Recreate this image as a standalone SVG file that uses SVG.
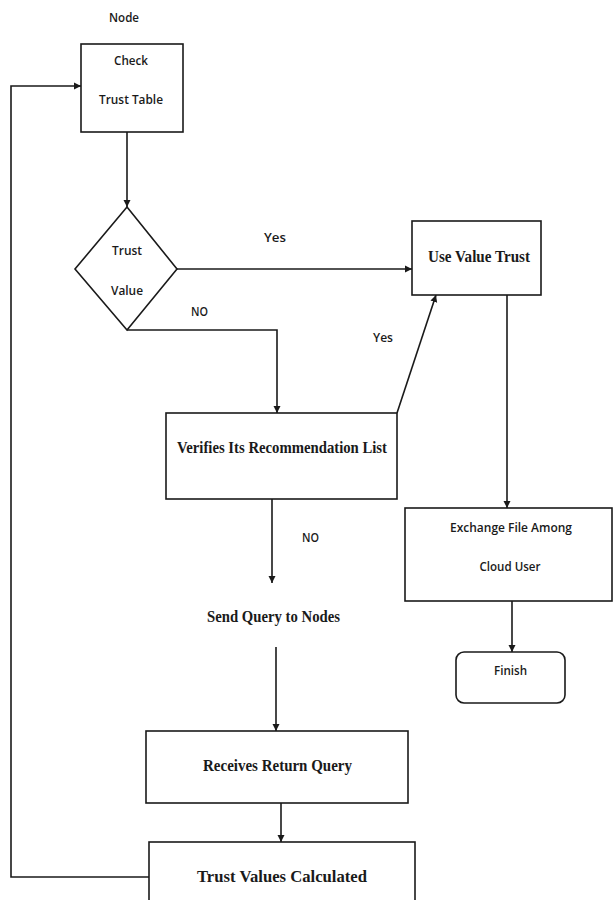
<svg xmlns="http://www.w3.org/2000/svg" width="613" height="900" viewBox="0 0 613 900">
<style>
.box{fill:#fff;stroke:#1a1a1a;stroke-width:1.6}
.ln{fill:none;stroke:#1a1a1a;stroke-width:1.6}
.sans{font-family:"Open Sans","Liberation Sans",sans-serif;font-size:13px;font-weight:600;fill:#1a1a1a;text-anchor:middle}
.serif{font-family:"Liberation Serif","DejaVu Serif",serif;font-size:17px;font-weight:bold;fill:#1a1a1a;text-anchor:middle}
</style>
<defs>
<marker id="ah" markerWidth="8" markerHeight="8" refX="7" refY="4" orient="auto" markerUnits="userSpaceOnUse">
<path d="M0,0.5 L7,4 L0,7.5 Z" fill="#1a1a1a"/>
</marker>
</defs>
<rect width="613" height="900" fill="#fff"/>
<g id="connectors">
<path class="ln" d="M127,132 V207" marker-end="url(#ah)"/>
<path class="ln" d="M177,269 H412" marker-end="url(#ah)"/>
<path class="ln" d="M127,330 H277 V413" marker-end="url(#ah)"/>
<path class="ln" d="M397,413 L436,295" marker-end="url(#ah)"/>
<path class="ln" d="M507,295 V508" marker-end="url(#ah)"/>
<path class="ln" d="M512,601 V652" marker-end="url(#ah)"/>
<path class="ln" d="M272,499 V583" marker-end="url(#ah)"/>
<path class="ln" d="M276,647 V731" marker-end="url(#ah)"/>
<path class="ln" d="M281,803 V842" marker-end="url(#ah)"/>
<path class="ln" d="M149,877 H11 V86 H81" marker-end="url(#ah)"/>
<text class="sans" x="275" y="242" textLength="22" lengthAdjust="spacingAndGlyphs">Yes</text>
<text class="sans" x="199.5" y="316" textLength="17" lengthAdjust="spacingAndGlyphs">NO</text>
<text class="sans" x="383" y="342" textLength="20" lengthAdjust="spacingAndGlyphs">Yes</text>
<text class="sans" x="310.5" y="542" textLength="17" lengthAdjust="spacingAndGlyphs">NO</text>
</g>
<g id="node-label">
<text class="sans" x="124" y="22" textLength="30" lengthAdjust="spacingAndGlyphs">Node</text>
</g>
<g id="check-trust-table">
<rect class="box" x="81" y="44" width="102" height="88"/>
<text class="sans" x="131" y="65" textLength="34" lengthAdjust="spacingAndGlyphs">Check</text>
<text class="sans" x="131" y="104" textLength="64" lengthAdjust="spacingAndGlyphs">Trust Table</text>
</g>
<g id="trust-value">
<path class="box" d="M127,207 L177,269 L127,330 L75,269 Z"/>
<text class="sans" x="127" y="255" textLength="30" lengthAdjust="spacingAndGlyphs">Trust</text>
<text class="sans" x="127" y="295" textLength="32" lengthAdjust="spacingAndGlyphs">Value</text>
</g>
<g id="use-value-trust">
<rect class="box" x="412" y="221" width="129" height="74"/>
<text class="serif" x="479" y="262" textLength="102" lengthAdjust="spacingAndGlyphs">Use Value Trust</text>
</g>
<g id="verifies">
<rect class="box" x="166" y="413" width="231" height="86"/>
<text class="serif" x="282" y="453" textLength="210" lengthAdjust="spacingAndGlyphs">Verifies Its Recommendation List</text>
</g>
<g id="exchange">
<rect class="box" x="405" y="508" width="207" height="93"/>
<text class="sans" x="511" y="532" textLength="122" lengthAdjust="spacingAndGlyphs">Exchange File Among</text>
<text class="sans" x="510" y="571" textLength="61" lengthAdjust="spacingAndGlyphs">Cloud User</text>
</g>
<g id="finish">
<rect class="box" x="456" y="652" width="109" height="51" rx="8"/>
<text class="sans" x="510.5" y="675" textLength="33" lengthAdjust="spacingAndGlyphs">Finish</text>
</g>
<g id="send-query">
<text class="serif" x="273.5" y="622" textLength="133" lengthAdjust="spacingAndGlyphs">Send Query to Nodes</text>
</g>
<g id="receives">
<rect class="box" x="146" y="731" width="262" height="72"/>
<text class="serif" x="277.5" y="771" textLength="149" lengthAdjust="spacingAndGlyphs">Receives Return Query</text>
</g>
<g id="trust-values-calculated">
<rect class="box" x="149" y="842" width="266" height="70"/>
<text class="serif" x="282" y="882" textLength="170" lengthAdjust="spacingAndGlyphs">Trust Values  Calculated</text>
</g>
</svg>
